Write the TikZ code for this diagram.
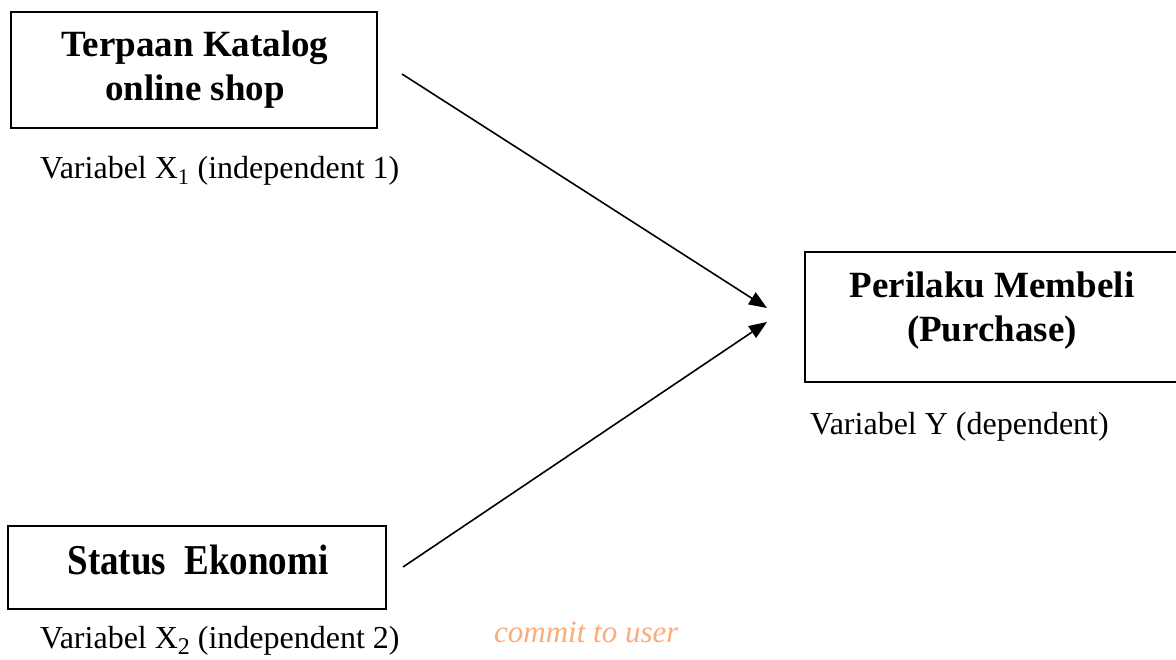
\documentclass[tikz,border=0pt]{standalone}
\usepackage{fontspec}
\usepackage{graphicx}
\setmainfont{Liberation Serif}
\usetikzlibrary{arrows.meta}
\definecolor{wm}{RGB}{250,172,122}
\tikzset{
  varbox/.style={draw, line width=1.6pt, inner sep=0pt},
  boxtext/.style={font=\fontsize{37}{44}\selectfont\bfseries, align=center},
  varlabel/.style={font=\fontsize{32}{38}\selectfont, anchor=base west, inner sep=0pt},
  link/.style={line width=1.6pt, -{Triangle[length=18pt,width=14pt]}}
}
\begin{document}
\begin{tikzpicture}[x=1pt,y=-1pt]
\useasboundingbox (0,0) rectangle (1176,659);
\clip (0,0) rectangle (1176,659);
% boxes
\node[varbox, minimum width=366pt, minimum height=116pt] (x1) at (194,70) {};
\node[boxtext] (x1t) at (195,70) {Terpaan Katalog\\online shop};
\node[varbox, minimum width=378pt, minimum height=83pt] (x2) at (197,567.5) {};
\node[boxtext] (x2t) at (198,560) {\scalebox{1.0}[1.15]{Status\ \ Ekonomi}};
\node[varbox, minimum width=374pt, minimum height=130pt] (y) at (992,317) {};
\node[boxtext] (yt) at (992,311) {Perilaku Membeli\\(Purchase)};
% labels
\node[varlabel] (lx1) at (40,178) {Variabel X\textsubscript{1} (independent 1)};
\node[varlabel] (ly) at (810,434) {Variabel Y (dependent)};
\node[varlabel] (lx2) at (40,648) {Variabel X\raisebox{-0.2em}{\fontsize{24}{24}\selectfont 2} (independent 2)};
\node[font=\fontsize{31}{36}\selectfont\itshape, text=wm, anchor=base west, inner sep=0pt] (wmk) at (494,642) {commit to user};
% connectors
\coordinate (s1) at (402,74);
\coordinate (e1) at (767,308);
\coordinate (s2) at (403,567);
\coordinate (e2) at (767,322);
\draw[link] (s1) -- (e1);
\draw[link] (s2) -- (e2);
\end{tikzpicture}
\end{document}
